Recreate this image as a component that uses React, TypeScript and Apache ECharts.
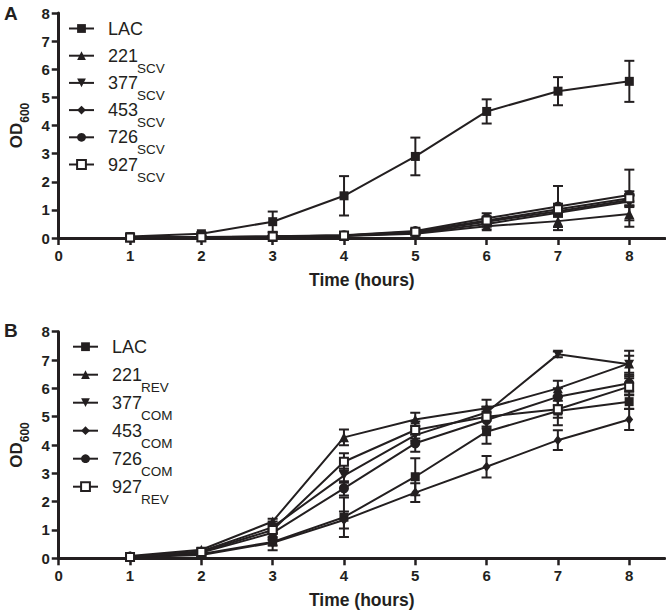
import React, { useEffect, useRef } from 'react';
import * as echarts from 'echarts';

// ---------- data ----------
const hours = [1, 2, 3, 4, 5, 6, 7, 8];
const xTickValues = [0, 1, 2, 3, 4, 5, 6, 7, 8];

// Panel A (OD600, mean and SD)
const A_LAC = [0.05, 0.15, 0.58, 1.5, 2.9, 4.5, 5.22, 5.57];
const A_LAC_SD = [0.04, 0.06, 0.36, 0.7, 0.67, 0.43, 0.5, 0.73];
const A_221 = [0.02, 0.03, 0.04, 0.07, 0.15, 0.42, 0.6, 0.85];
const A_221_SD = [0.01, 0.01, 0.02, 0.03, 0.05, 0.12, 0.32, 0.45];
const A_377 = [0.02, 0.03, 0.05, 0.09, 0.2, 0.58, 0.95, 1.35];
const A_377_SD = [0.01, 0.01, 0.02, 0.03, 0.06, 0.1, 0.15, 0.2];
const A_453 = [0.02, 0.03, 0.04, 0.08, 0.18, 0.5, 0.9, 1.3];
const A_453_SD = [0.01, 0.01, 0.02, 0.03, 0.05, 0.1, 0.15, 0.2];
const A_726 = [0.03, 0.04, 0.06, 0.1, 0.25, 0.7, 1.12, 1.53];
const A_726_SD = [0.01, 0.01, 0.02, 0.04, 0.08, 0.18, 0.73, 0.9];
const A_927 = [0.02, 0.03, 0.05, 0.09, 0.22, 0.62, 1.02, 1.41];
const A_927_SD = [0.01, 0.01, 0.02, 0.03, 0.06, 0.12, 0.2, 0.25];

// Panel B
const B_LAC = [0.05, 0.15, 0.58, 1.45, 2.88, 4.47, 5.2, 5.53];
const B_LAC_SD = [0.04, 0.06, 0.3, 0.7, 0.65, 0.43, 0.5, 0.25];
const B_221 = [0.08, 0.3, 1.3, 4.27, 4.9, 5.3, 6.0, 6.88];
const B_221_SD = [0.02, 0.05, 0.1, 0.28, 0.24, 0.3, 0.27, 0.45];
const B_377 = [0.05, 0.25, 1.1, 2.92, 4.35, 5.15, 7.2, 6.85];
const B_377_SD = [0.02, 0.05, 0.1, 0.25, 0.2, 0.2, 0.1, 0.3];
const B_453 = [0.04, 0.12, 0.55, 1.35, 2.32, 3.23, 4.17, 4.9];
const B_453_SD = [0.02, 0.04, 0.1, 0.3, 0.33, 0.38, 0.35, 0.37];
const B_726 = [0.06, 0.2, 0.9, 2.47, 4.06, 4.88, 5.7, 6.18];
const B_726_SD = [0.02, 0.05, 0.15, 0.25, 0.3, 0.3, 0.3, 0.3];
const B_927 = [0.05, 0.22, 1.0, 3.41, 4.53, 5.0, 5.26, 6.06];
const B_927_SD = [0.02, 0.05, 0.3, 0.3, 0.3, 0.35, 0.3, 0.3];

const panelA = [
  { id: 'A-LAC', main: 'LAC', sub: '', values: A_LAC, sd: A_LAC_SD, mark: 'square' },
  { id: 'A-221', main: '221', sub: 'SCV', values: A_221, sd: A_221_SD, mark: 'triangle' },
  { id: 'A-377', main: '377', sub: 'SCV', values: A_377, sd: A_377_SD, mark: 'downTriangle' },
  { id: 'A-453', main: '453', sub: 'SCV', values: A_453, sd: A_453_SD, mark: 'diamond' },
  { id: 'A-726', main: '726', sub: 'SCV', values: A_726, sd: A_726_SD, mark: 'circle' },
  { id: 'A-927', main: '927', sub: 'SCV', values: A_927, sd: A_927_SD, mark: 'openSquare' },
];
const panelB = [
  { id: 'B-LAC', main: 'LAC', sub: '', values: B_LAC, sd: B_LAC_SD, mark: 'square' },
  { id: 'B-221', main: '221', sub: 'REV', values: B_221, sd: B_221_SD, mark: 'triangle' },
  { id: 'B-377', main: '377', sub: 'COM', values: B_377, sd: B_377_SD, mark: 'downTriangle' },
  { id: 'B-453', main: '453', sub: 'COM', values: B_453, sd: B_453_SD, mark: 'diamond' },
  { id: 'B-726', main: '726', sub: 'COM', values: B_726, sd: B_726_SD, mark: 'circle' },
  { id: 'B-927', main: '927', sub: 'REV', values: B_927, sd: B_927_SD, mark: 'openSquare' },
];

// ---------- styles ----------
const INK = '#231f20';
const FONT = '"Liberation Sans", Arial, Helvetica, sans-serif';
const LEGEND_MAIN_SIZE = 18;
const LEGEND_SUB_SIZE = 13.5;

const marks: Record<string, any> = {
  square: { symbol: 'rect', symbolSize: 9, empty: false },
  triangle: { symbol: 'triangle', symbolSize: 10, empty: false },
  downTriangle: { symbol: 'path://M0,0L10,0L5,9Z', symbolSize: [10, 9], empty: false },
  diamond: { symbol: 'diamond', symbolSize: [8, 10], empty: false },
  circle: { symbol: 'circle', symbolSize: 10, empty: false },
  openSquare: { symbol: 'emptyRect', symbolSize: 8, empty: true },
};

const mainOf: Record<string, string> = {};
[...panelA, ...panelB].forEach((s) => {
  mainOf[s.id] = s.main;
});

function errorRender(params: any, api: any) {
  const x = api.value(0);
  const lo = api.value(1);
  const hi = api.value(2);
  const top = api.coord([x, hi]);
  const bot = api.coord([x, lo]);
  const cw = 5;
  const style = { stroke: INK, lineWidth: 2 };
  return {
    type: 'group',
    children: [
      { type: 'line', shape: { x1: top[0], y1: top[1], x2: bot[0], y2: bot[1] }, style },
      { type: 'line', shape: { x1: top[0] - cw, y1: top[1], x2: top[0] + cw, y2: top[1] }, style },
      { type: 'line', shape: { x1: bot[0] - cw, y1: bot[1], x2: bot[0] + cw, y2: bot[1] }, style },
    ],
  };
}

function buildSeries(panel: any[], axisIndex: number) {
  const out: any[] = [];
  panel.forEach((s) => {
    out.push({
      type: 'custom',
      name: s.id + '-err',
      xAxisIndex: axisIndex,
      yAxisIndex: axisIndex,
      renderItem: errorRender,
      encode: { x: 0, y: [1, 2] },
      data: hours.map((h, i) => [h, s.values[i] - s.sd[i], s.values[i] + s.sd[i]]),
      z: 2,
      silent: true,
      clip: true,
    });
  });
  panel.forEach((s) => {
    const m = marks[s.mark];
    out.push({
      type: 'line',
      name: s.id,
      xAxisIndex: axisIndex,
      yAxisIndex: axisIndex,
      data: hours.map((h, i) => [h, s.values[i]]),
      symbol: m.symbol,
      symbolSize: m.symbolSize,
      showSymbol: true,
      lineStyle: { color: INK, width: 2 },
      itemStyle: m.empty
        ? { color: INK, borderColor: INK, borderWidth: 1.5 }
        : { color: INK, borderWidth: 0 },
      z: 3,
      silent: true,
    });
  });
  return out;
}

function xAxisFor(gridIndex: number) {
  return {
    type: 'value',
    gridIndex,
    min: 0,
    max: 8.5,
    interval: 1,
    axisLine: { show: true, onZero: false, lineStyle: { color: INK, width: 3 } },
    axisTick: { show: true, length: 7, lineStyle: { color: INK, width: 2.5 }, customValues: xTickValues },
    axisLabel: {
      customValues: xTickValues,
      color: INK,
      fontFamily: FONT,
      fontWeight: 'bold',
      fontSize: 15,
      margin: 10,
    },
    splitLine: { show: false },
    name: 'Time (hours)',
    nameLocation: 'middle',
    nameGap: 33,
    nameTextStyle: { color: INK, fontFamily: FONT, fontWeight: 'bold', fontSize: 17.5 },
  };
}

function yAxisFor(gridIndex: number) {
  return {
    type: 'value',
    gridIndex,
    min: 0,
    max: 8,
    interval: 1,
    axisLine: { show: true, onZero: false, lineStyle: { color: INK, width: 3 } },
    axisTick: { show: true, length: 7, lineStyle: { color: INK, width: 2.5 } },
    axisLabel: { color: INK, fontFamily: FONT, fontWeight: 'bold', fontSize: 15, margin: 9 },
    splitLine: { show: false },
    name: '{m|OD}{s|600}',
    nameLocation: 'middle',
    nameRotate: 90,
    nameGap: 31,
    nameTextStyle: {
      rich: {
        m: { fontSize: 17, fontWeight: 'bold', fontFamily: FONT, color: INK, lineHeight: 20 },
        s: { fontSize: 12, fontWeight: 'bold', fontFamily: FONT, color: INK, height: 1, lineHeight: 20, padding: [16, 0, 0, 0] },
      },
    },
  };
}

// legend geometry (one legend component per row so each row sits exactly)
const LEG_ROW_H = 20;
const LEG_ICON_W = 25;
const LEG_TEXT_GAP = 5; // echarts' fixed gap between icon and text
const LEG_TEXT_PAD = 9;
const legendA = { left: 68, firstRow: 28.5, step: 27.2 };
const legendB = { left: 72, firstRow: 346.7, step: 28 };

function legendsFor(panel: any[], geo: any) {
  return panel.map((s, i) => ({
    data: [s.id],
    orient: 'vertical',
    left: geo.left,
    top: geo.firstRow + i * geo.step - LEG_ROW_H / 2,
    itemWidth: LEG_ICON_W,
    itemHeight: 11,
    padding: 0,
    selectedMode: false,
    formatter: (name: string) => `{m|${mainOf[name]}}`,
    textStyle: {
      color: INK,
      fontFamily: FONT,
      fontSize: LEGEND_MAIN_SIZE,
      lineHeight: LEG_ROW_H,
      rich: {
        m: { fontSize: LEGEND_MAIN_SIZE, fontFamily: FONT, color: INK, lineHeight: LEG_ROW_H, padding: [0, 0, 0, LEG_TEXT_PAD] },
      },
    },
  }));
}

function measure(text: string, font: string) {
  const c = document.createElement('canvas');
  const ctx = c.getContext('2d');
  if (!ctx) return text.length * 10;
  ctx.font = font;
  return ctx.measureText(text).width;
}

function subscriptGraphics(panel: any[], geo: any) {
  const textX = geo.left + LEG_ICON_W + LEG_TEXT_GAP + LEG_TEXT_PAD;
  const out: any[] = [];
  panel.forEach((s, i) => {
    if (!s.sub) return;
    const w = measure(s.main, `${LEGEND_MAIN_SIZE}px "Liberation Sans", Arial, sans-serif`);
    out.push({
      type: 'text',
      x: textX + w,
      y: geo.firstRow + i * geo.step + 12.5,
      style: {
        text: s.sub,
        font: `${LEGEND_SUB_SIZE}px ${FONT}`,
        fill: INK,
        verticalAlign: 'middle',
        align: 'left',
      },
      silent: true,
    });
  });
  return out;
}

export default function App() {
  const ref = useRef<HTMLDivElement>(null);
  useEffect(() => {
    if (!ref.current) return;
    const chart = echarts.init(ref.current, undefined, { renderer: 'svg' });
    chart.setOption({
      animation: false,
      backgroundColor: '#ffffff',
      grid: [
        { left: 52, top: 13, width: 613, height: 225 },
        { left: 57, top: 331.7, width: 607.8, height: 226.6 },
      ],
      xAxis: [xAxisFor(0), xAxisFor(1)],
      yAxis: [yAxisFor(0), yAxisFor(1)],
      legend: [...legendsFor(panelA, legendA), ...legendsFor(panelB, legendB)],
      graphic: [
        { type: 'text', left: 4, top: 4, style: { text: 'A', font: `bold 19px ${FONT}`, fill: INK } },
        { type: 'text', left: 4, top: 321, style: { text: 'B', font: `bold 19px ${FONT}`, fill: INK } },
        ...subscriptGraphics(panelA, legendA),
        ...subscriptGraphics(panelB, legendB),
      ],
      series: [...buildSeries(panelA, 0), ...buildSeries(panelB, 1)],
    });
    return () => chart.dispose();
  }, []);
  return (
    <div
      ref={ref}
      style={{ position: 'absolute', left: 0, top: 0, width: 666, height: 613, background: '#fff' }}
    />
  );
}
